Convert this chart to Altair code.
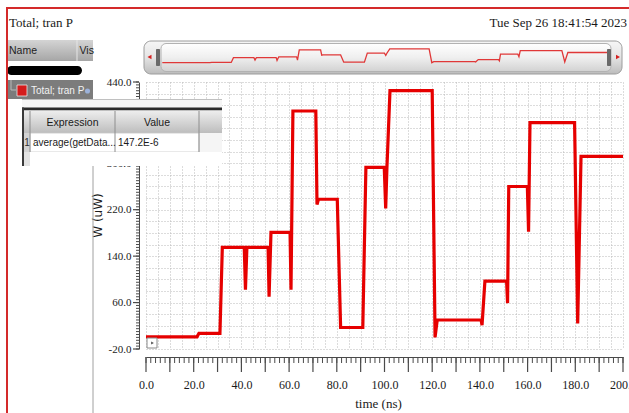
import altair as alt
import pandas as pd

# ---------------- data ----------------
t_ns = [0, 21.4, 22.2, 31.0, 32.0, 41.2, 41.7, 42.3, 51.2, 51.6, 52.4, 60.4, 60.8, 61.6,
        71.2, 71.7, 72.3, 80.2, 81.6, 90.9, 92.2, 99.9, 100.5, 101.0, 102.3, 120.0, 121.2,
        122.1, 140.5, 140.9, 142.1, 151.2, 151.6, 152.1, 159.9, 160.4, 161.0, 179.7, 181.0,
        182.4, 200.0]
p_uw = [1, 1, 7, 7, 155, 155, 82, 155, 155, 70, 181, 181, 82, 390,
        390, 229, 238, 238, 17, 17, 293, 293, 222, 290, 425, 425, 0,
        30, 30, 21, 97, 97, 59, 260, 260, 182, 370, 370, 24,
        312, 312]

x_label_values = [0, 20, 40, 60, 80, 100, 120, 140, 160, 180, 200]
y_label_values = [-20, 60, 140, 220, 300, 380, 440]

header_left = "Total; tran P"
header_right = "Tue Sep 26 18:41:54 2023"
panel_headers = ["Name", "Vis"]
signal_name = "Total; tran P"
table_headers = ["Expression", "Value"]
table_row = ["1", "average(getData...", "147.2E-6"]
x_title = "time (ns)"
y_title = "W (uW)"

# ---------------- layout ----------------
W, H = 477, 267
OX, OY = 146, 82

x_grid = list(range(0, 201, 5))
y_grid = list(range(-20, 441, 20))
x_minor = list(range(0, 201, 2))
x_major = list(range(0, 201, 10))
y_minor = list(range(-20, 441, 5))

wave = pd.DataFrame({"t": t_ns, "p": p_uw})


def xs():
    return alt.Scale(domain=[0, 200], range=[0, W], nice=False, zero=False)


def ys():
    return alt.Scale(domain=[-20, 440], range=[H, 0], nice=False, zero=False)


SERIF = "Liberation Serif"
SANS = "Liberation Sans"
GRID = "#b8b8b8"
AX = "#4a4a4a"

y_lab_list = ",".join(str(v) for v in y_label_values)
x_lab_list = ",".join(str(v) for v in x_label_values)

x_axis = alt.Axis(
    values=x_grid, grid=True, gridColor=GRID, gridDash=[1, 2], gridWidth=1,
    ticks=False, tickSize=0, domain=True, domainColor=AX, domainWidth=1, offset=8,
    labelExpr=f"indexof([{x_lab_list}], datum.value) >= 0 ? format(datum.value, '.1f') : ''",
    labelFont=SERIF, labelFontSize=12, labelColor="#1a1a1a", labelPadding=22,
    labelFlush=False, labelOverlap=False,
    title=x_title, titleFont=SERIF, titleFontSize=13, titleFontWeight="normal",
    titleColor="#1a1a1a", titleX=232, titleY=46, titleBaseline="middle")

y_axis = alt.Axis(
    values=y_grid, grid=True, gridColor=GRID, gridDash=[1, 2], gridWidth=1,
    ticks=False, tickSize=0, domain=True, domainColor=AX, domainWidth=1, offset=7,
    labelExpr=(f"indexof([{y_lab_list}], datum.value) >= 0 ? "
               "(datum.value < 0 ? '-' : '') + format(abs(datum.value), '.1f') : ''"),
    labelFont=SERIF, labelFontSize=11, labelColor="#1a1a1a", labelPadding=8,
    labelFlush=False, labelOverlap=False,
    title=y_title, titleFont="DejaVu Sans", titleFontSize=12, titleFontWeight="normal",
    titleColor="#1a1a1a", titleAngle=270, titleX=-42, titleY=133,
    titleBaseline="middle", titleAlign="center")

line = alt.Chart(wave).mark_line(color="#e60000", strokeWidth=3.2).encode(
    x=alt.X("t:Q", scale=xs(), axis=x_axis),
    y=alt.Y("p:Q", scale=ys(), axis=y_axis),
)

xminor = alt.Chart(pd.DataFrame({"t": x_minor})).mark_rule(color=AX, strokeWidth=1).encode(
    x=alt.X("t:Q", scale=xs(), axis=None), y=alt.value(H + 8), y2=alt.value(H + 14))
xmajor = alt.Chart(pd.DataFrame({"t": x_major})).mark_rule(color=AX, strokeWidth=1.2).encode(
    x=alt.X("t:Q", scale=xs(), axis=None), y=alt.value(H + 8), y2=alt.value(H + 23))
yminor = alt.Chart(pd.DataFrame({"p": y_minor})).mark_rule(color=AX, strokeWidth=1).encode(
    y=alt.Y("p:Q", scale=ys(), axis=None), x=alt.value(-7), x2=alt.value(-10))
ymajor = alt.Chart(pd.DataFrame({"p": y_label_values})).mark_rule(color=AX, strokeWidth=1.2).encode(
    y=alt.Y("p:Q", scale=ys(), axis=None), x=alt.value(-7), x2=alt.value(-13))

mini = alt.Chart(wave).mark_line(color="#e03838", strokeWidth=1.3).encode(
    x=alt.X("t:Q", scale=alt.Scale(domain=[0, 200], range=[16.3, 461], nice=False, zero=False), axis=None),
    y=alt.Y("p:Q", scale=alt.Scale(domain=[0, 440], range=[-19.3, -33.7], nice=False, zero=False), axis=None),
)

# ---------------- decoration helpers (screen chrome) ----------------
one = pd.DataFrame({"k": [0]})


def px(x):
    return x - OX


def py(y):
    return y - OY


def vgrad(*cols):
    n = len(cols) - 1
    return alt.LinearGradient(
        gradient="linear", x1=0, x2=0, y1=0, y2=1,
        stops=[alt.GradientStop(color=c, offset=i / n) for i, c in enumerate(cols)])


def box(x1, y1, x2, y2, **mk):
    return alt.Chart(one).mark_rect(**mk).encode(
        x=alt.value(px(x1)), x2=alt.value(px(x2)), y=alt.value(py(y1)), y2=alt.value(py(y2)))


def seg(x1, y1, x2, y2, **mk):
    return alt.Chart(one).mark_rule(**mk).encode(
        x=alt.value(px(x1)), x2=alt.value(px(x2)), y=alt.value(py(y1)), y2=alt.value(py(y2)))


def label(s, x, y, **mk):
    return alt.Chart(pd.DataFrame({"s": [s]})).mark_text(**mk).encode(
        text="s:N", x=alt.value(px(x)), y=alt.value(py(y)))


def marker(shape, x, y, **mk):
    return alt.Chart(one).mark_point(shape=shape, **mk).encode(
        x=alt.value(px(x)), y=alt.value(py(y)))


deco_back = [
    box(144, 41, 622, 74, cornerRadius=7, fill=vgrad("#f6f6f6", "#e4e4e4", "#bcbcbc"),
        stroke="#9c9c9c", strokeWidth=1),
    box(161, 43.5, 611, 71.5, cornerRadius=5, fill=vgrad("#ffffff", "#efefef", "#d2d2d2"),
        stroke="#b2b2b2", strokeWidth=1),
]

deco_front = [
    box(156, 49, 160, 66, cornerRadius=1, fill="#6a6a6a"),
    box(607, 49, 611, 66, cornerRadius=1, fill="#6a6a6a"),
    marker("triangle-left", 149.5, 57, filled=True, size=22, color="#d42020", opacity=1),
    marker("triangle-right", 618, 57, filled=True, size=22, color="#d42020", opacity=1),
    box(147, 338, 157, 348, fill="#ffffff", stroke="#8a8a8a", strokeWidth=1),
    marker("triangle-right", 152.5, 343, filled=True, size=10, color="#555555", opacity=1),
    # left panel
    box(7, 40, 93, 61, fill=vgrad("#d4d4d4", "#a6a6a6")),
    seg(77, 40, 77, 61, color="#e6e6e6", strokeWidth=1),
    label(panel_headers[0], 9, 51, align="left", baseline="middle", font=SANS, fontSize=10.5, color="#222"),
    label(panel_headers[1], 79.5, 51, align="left", baseline="middle", font=SANS, fontSize=10.5, color="#222"),
    box(7, 66, 82, 75, cornerRadius=4.5, fill="#000000"),
    box(7, 80, 93, 99, fill="#7c7c7c"),
    seg(11, 80, 11, 90, color="#b8b8b8", strokeWidth=1),
    seg(11, 90, 16, 90, color="#b8b8b8", strokeWidth=1),
    box(17, 85, 27, 96, fill="#d41c1c", stroke="#e8e8e8", strokeWidth=0.8),
    label(signal_name, 31, 90.5, align="left", baseline="middle", font=SANS, fontSize=10, color="#f2f2f2"),
    marker("circle", 87.5, 91, filled=True, size=26, color="#9cb2da", opacity=1),
    seg(93, 166, 93, 413, color="#a0a0a0", strokeWidth=1),
    # calculator table window
    box(22, 99, 222, 166, fill="#f5f5f5"),
    seg(22, 99.5, 222, 99.5, color="#c0c0c0", strokeWidth=1),
    box(22, 107.5, 222, 110.5, fill="#2a2a2a"),
    box(24, 110.5, 222, 133, fill=vgrad("#eeeeee", "#bdbdbd")),
    box(30, 133, 199, 152, fill="#ffffff", stroke="#c6c6c6", strokeWidth=0.8),
    box(24, 133, 30, 152, fill="#d2d2d2"),
    box(30, 152, 222, 166, fill="#ffffff"),
    box(24, 152, 30, 166, fill="#e2e2e2"),
    box(22, 107.5, 24, 166, fill="#3a3a3a"),
    seg(30, 111, 30, 152, color="#8e8e8e", strokeWidth=1),
    seg(115, 111, 115, 152, color="#8e8e8e", strokeWidth=1),
    seg(199, 111, 199, 152, color="#8e8e8e", strokeWidth=1),
    label(table_headers[0], 72.5, 122.5, align="center", baseline="middle", font=SANS, fontSize=10.5, color="#1a1a1a"),
    label(table_headers[1], 157, 122.5, align="center", baseline="middle", font=SANS, fontSize=10.5, color="#1a1a1a"),
    label(table_row[0], 27, 143, align="center", baseline="middle", font=SANS, fontSize=10, color="#333"),
    label(table_row[1], 33, 143, align="left", baseline="middle", font=SANS, fontSize=10, color="#1a1a1a"),
    label(table_row[2], 118, 143, align="left", baseline="middle", font=SANS, fontSize=10, color="#1a1a1a"),
    # red frame and header texts
    seg(6, 8, 629, 8, color="#d42a2a", strokeWidth=2),
    seg(7, 8, 7, 413, color="#d42a2a", strokeWidth=2),
    label(header_left, 9, 23, align="left", baseline="middle", font=SERIF, fontSize=13, color="#1a1a1a"),
    label(header_right, 627, 23, align="right", baseline="middle", font=SERIF, fontSize=13, color="#1a1a1a"),
]

chart = alt.layer(line, xminor, xmajor, yminor, ymajor, *deco_back, mini, *deco_front).resolve_scale(
    x="independent", y="independent"
).resolve_axis(
    x="independent", y="independent"
).properties(
    width=W, height=H,
    padding={"left": OX, "top": OY, "right": 629 - OX - W, "bottom": 413 - OY - H},
    autosize=alt.AutoSizeParams(type="none"),
    background="white",
).configure_view(strokeWidth=0)

chart.save("out.html", embed_options={"renderer": "svg", "actions": False})
